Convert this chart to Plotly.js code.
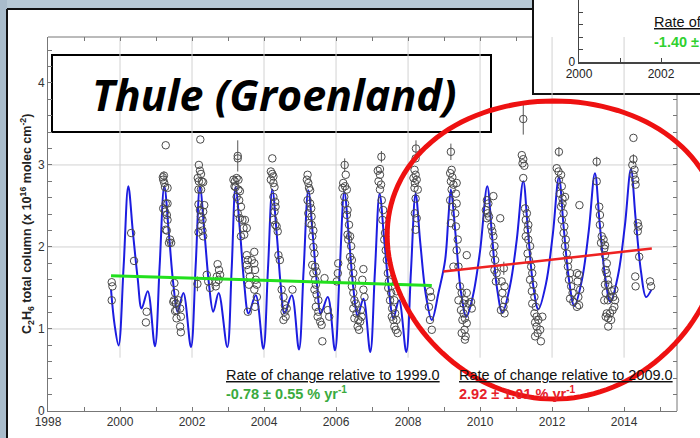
<!DOCTYPE html>
<html><head><meta charset="utf-8">
<script src="https://cdn.plot.ly/plotly-3.0.1.min.js"></script>
<style>html,body{margin:0;padding:0;background:#fff;}#chart{width:700px;height:438px;}</style>
</head><body><div id="chart"></div>
<script>
// ---------------- data ----------------
const xTickVals = [1998, 2000, 2002, 2004, 2006, 2008, 2010, 2012, 2014];
const yTickVals = [0, 1, 2, 3, 4];

// seasonal fit (blue curve): key points
const fitYear = [1999.75,1999.85,1999.96,2000.10,2000.23,2000.36,2000.49,2000.60,2000.77,2000.97,
 2001.10,2001.23,2001.36,2001.48,2001.60,2001.76,2001.97,
 2002.10,2002.22,2002.35,2002.47,2002.59,2002.74,2002.98,
 2003.10,2003.21,2003.34,2003.45,2003.57,2003.77,2003.98,
 2004.11,2004.23,2004.36,2004.46,2004.57,2004.77,2004.97,
 2005.10,2005.23,2005.36,2005.47,2005.58,2005.77,2005.97,
 2006.10,2006.23,2006.36,2006.48,2006.60,2006.76,2006.95,
 2007.08,2007.21,2007.34,2007.47,2007.59,2007.75,2007.95,
 2008.08,2008.21,2008.34,2008.50,2008.66,2008.85,2009.03,2009.12,2009.19,
 2009.32,2009.47,2009.62,2009.80,2010.00,2010.20,
 2010.33,2010.47,2010.62,2010.83,2011.02,2011.20,
 2011.33,2011.47,2011.62,2011.83,2012.02,2012.19,
 2012.32,2012.47,2012.62,2012.83,2013.02,2013.19,
 2013.32,2013.47,2013.62,2013.83,2014.02,2014.19,
 2014.32,2014.47,2014.61,2014.76];
const fitValue = [1.48,1.05,0.80,1.76,2.74,2.17,1.62,1.25,1.46,0.79,
 1.76,2.74,2.15,1.55,1.21,1.44,0.78,
 1.76,2.73,2.15,1.55,1.21,1.44,0.78,
 1.72,2.73,2.15,1.55,1.19,1.41,0.76,
 1.74,2.70,2.12,1.55,1.19,1.41,0.75,
 1.72,2.69,2.12,1.55,1.19,1.39,0.74,
 1.70,2.67,2.10,1.50,1.16,1.37,0.72,
 1.70,2.65,2.08,1.48,1.13,1.35,0.72,
 1.70,2.65,2.05,1.40,1.11,1.45,1.84,2.35,2.70,
 2.15,1.45,1.15,1.40,1.95,2.74,
 2.15,1.50,1.20,1.52,2.09,2.80,
 2.20,1.55,1.24,1.55,2.15,2.85,
 2.25,1.60,1.28,1.60,2.20,2.90,
 2.30,1.65,1.33,1.65,2.25,2.95,
 2.35,1.70,1.39,1.48];

// trend lines
const trend1Year = [1999.75, 2008.66];
const trend1Value = [1.65, 1.53];
const trend2Year = [2008.98, 2014.77];
const trend2Value = [1.70, 1.98];

// observations (open circles)
const obsYear = [
 1999.77,1999.79,1999.77,
 2000.31,2000.39,2000.74,2000.72,
 2001.27,2001.19,2001.20,2001.23,2001.25,2001.32,2001.27,2001.32,2001.20,2001.25,2001.30,2001.32,2001.27,2001.30,2001.39,2001.42,2001.36,2001.51,2001.53,2001.50,2001.48,2001.55,2001.62,2001.57,2001.53,2001.67,2001.69,2001.57,2001.67,2001.69,
 2002.23,2002.19,2002.22,2002.25,2002.16,2002.19,2002.27,2002.31,2002.18,2002.25,2002.18,2002.34,2002.22,2002.31,2002.25,2002.29,2002.25,2002.29,2002.31,2002.18,2002.41,2002.45,2002.50,2002.66,2002.71,2002.75,2002.69,2002.78,2002.67,2002.74,
 2003.27,2003.15,2003.19,2003.24,2003.29,2003.18,2003.21,2003.29,2003.33,2003.24,2003.31,2003.36,2003.27,2003.33,2003.40,2003.47,2003.43,2003.45,2003.36,2003.52,2003.52,2003.55,2003.52,2003.57,2003.61,2003.58,2003.66,2003.73,2003.73,2003.75,2003.77,2003.80,2003.73,2003.80,2003.55,2003.75,
 2004.23,2004.19,2004.23,2004.26,2004.19,2004.26,2004.29,2004.26,2004.31,2004.32,2004.29,2004.26,2004.31,2004.38,2004.35,2004.40,2004.44,2004.49,2004.54,2004.58,2004.57,2004.63,2004.54,2004.60,2004.79,
 2005.21,2005.19,2005.23,2005.25,2005.28,2005.21,2005.28,2005.31,2005.23,2005.32,2005.25,2005.32,2005.37,2005.34,2005.37,2005.40,2005.34,2005.42,2005.37,2005.46,2005.42,2005.44,2005.40,2005.46,2005.51,2005.44,2005.51,2005.49,2005.56,2005.60,2005.68,2005.77,2005.81,2005.62,
 2006.06,2006.05,2006.02,2006.27,2006.20,2006.25,2006.18,2006.30,2006.23,2006.25,2006.32,2006.30,2006.36,2006.32,2006.39,2006.34,2006.42,2006.39,2006.44,2006.42,2006.48,2006.45,2006.44,2006.48,2006.51,2006.55,2006.48,2006.57,2006.51,2006.62,2006.60,2006.67,2006.64,2006.71,2006.69,2006.76,2006.73,2006.76,2006.79,
 2007.22,2007.16,2007.22,2007.18,2007.25,2007.22,2007.27,2007.31,2007.29,2007.36,2007.34,2007.38,2007.41,2007.44,2007.47,2007.45,2007.53,2007.50,2007.56,2007.55,2007.59,2007.62,2007.66,2007.68,2007.64,2007.71,2007.62,2007.68,
 2008.21,2008.18,2008.21,2008.15,2008.24,2008.19,2008.18,2008.27,2008.21,2008.19,2008.24,2008.21,2008.61,2008.64,2008.58,2008.61,2008.66,
 2009.21,2009.17,2009.23,2009.19,2009.26,2009.21,2009.17,2009.23,2009.19,2009.26,2009.35,2009.33,2009.35,2009.31,2009.33,2009.38,2009.35,2009.40,2009.44,2009.49,2009.40,2009.54,2009.58,2009.47,2009.54,2009.51,2009.58,2009.63,2009.57,2009.49,2009.58,2009.68,2009.75,2009.63,2009.77,2009.60,2009.63,
 2010.19,2010.23,2010.16,2010.21,2010.19,2010.25,2010.37,2010.56,2010.31,2010.34,2010.37,2010.40,2010.37,2010.42,2010.40,2010.44,2010.46,2010.60,2010.68,2010.62,2010.69,2010.65,2010.58,2010.68,
 2011.16,2011.20,2011.18,2011.23,2011.20,2011.25,2011.30,2011.27,2011.34,2011.32,2011.27,2011.34,2011.39,2011.32,2011.36,2011.42,2011.45,2011.39,2011.48,2011.44,2011.51,2011.45,2011.55,2011.51,2011.57,2011.53,2011.62,2011.57,2011.67,2011.60,2011.53,2011.73,2011.69,
 2012.13,2012.18,2012.25,2012.19,2012.27,2012.22,2012.29,2012.25,2012.32,2012.27,2012.34,2012.32,2012.38,2012.36,2012.41,2012.45,2012.44,2012.50,2012.47,2012.53,2012.57,2012.50,2012.59,2012.36,2012.29,2012.76,2012.69,2012.75,2012.71,2012.78,2012.73,2012.69,2012.75,
 2013.24,2013.31,2013.33,2013.33,2013.38,2013.43,2013.36,2013.47,2013.45,2013.47,2013.52,2013.49,2013.52,2013.55,2013.47,2013.56,2013.49,2013.45,2013.55,2013.61,2013.66,2013.73,2013.70,2013.75,2013.73,2013.68,2013.61,2013.52,2013.56,2013.64,2013.56,2013.49,
 2014.26,2014.23,2014.29,2014.26,2014.31,2014.32,2014.38,2014.40,2014.38,2014.42,2014.31,2014.32,2014.72,2014.75];
const obsValue = [
 1.57,1.52,1.35,
 2.17,1.83,1.21,1.08,
 3.24,2.85,2.82,2.78,2.73,2.72,2.53,2.53,2.47,2.43,2.39,2.33,2.21,2.20,2.09,2.05,2.05,1.56,1.44,1.35,1.33,1.31,1.35,1.23,1.22,1.25,1.15,1.13,1.03,0.96,
 3.31,3.00,2.93,2.89,2.84,2.80,2.80,2.79,2.70,2.70,2.52,2.51,2.45,2.43,2.37,2.33,2.26,2.20,2.13,2.18,1.66,1.58,1.50,1.52,1.79,1.72,1.64,1.66,1.57,1.60,
 3.08,2.82,2.80,2.84,2.82,2.74,2.73,2.70,2.68,2.61,2.57,2.49,2.41,2.35,2.33,2.33,2.23,2.15,2.13,2.23,1.90,1.84,1.78,1.72,1.64,1.54,1.84,1.94,1.80,1.72,1.60,1.54,1.48,1.39,1.21,1.27,
 3.08,2.92,2.89,2.86,2.82,2.78,2.73,2.61,2.55,2.49,2.43,2.33,2.27,2.19,2.25,1.90,1.84,1.48,1.39,1.29,1.21,1.25,1.11,1.15,1.48,
 2.88,2.82,2.78,2.72,2.69,2.57,2.53,2.47,2.41,2.37,2.29,2.27,2.20,2.13,2.00,1.92,1.78,1.76,1.68,1.70,1.60,1.54,1.48,1.42,1.35,1.27,1.21,1.15,1.09,1.05,1.62,1.23,1.15,0.85,
 1.80,1.68,1.58,2.88,2.78,2.74,2.72,2.70,2.61,2.53,2.45,2.39,2.27,2.15,2.13,2.09,2.01,1.88,1.84,1.76,1.68,1.60,1.52,1.44,1.35,1.31,1.25,1.19,1.13,1.11,1.03,1.09,0.99,1.15,1.23,1.73,1.60,1.48,1.39,
 2.95,2.93,2.88,2.80,2.76,2.70,2.57,2.45,2.33,2.17,2.09,1.96,1.84,1.68,1.58,1.50,1.44,1.35,1.25,1.15,1.11,1.03,0.99,1.11,1.19,0.95,1.35,1.46,
 3.08,2.94,2.88,2.84,2.82,2.78,2.72,2.70,2.59,2.41,2.35,2.21,1.46,1.39,1.27,1.11,0.99,
 2.94,2.90,2.85,2.80,2.76,2.70,2.57,2.49,2.29,1.76,2.78,2.65,2.53,2.41,2.25,2.09,1.96,1.76,1.52,1.44,1.35,1.31,1.35,1.23,1.19,1.11,1.13,1.07,0.99,0.95,0.87,1.31,1.33,1.44,1.25,0.91,1.90,
 2.57,2.53,2.45,2.41,2.35,2.37,2.62,2.35,2.25,2.19,2.13,2.01,1.92,1.84,1.72,1.58,1.68,1.58,1.52,1.44,1.35,1.27,1.23,1.19,
 3.12,3.07,3.02,2.99,2.84,2.47,2.41,2.33,2.27,2.21,2.13,2.09,2.01,1.92,1.84,1.76,1.68,1.60,1.54,1.46,1.39,1.31,1.27,1.19,1.15,1.08,1.11,1.03,0.99,0.95,0.91,1.15,0.85,
 2.96,2.92,2.88,2.82,2.74,2.65,2.59,2.49,2.41,2.33,2.25,2.17,2.09,2.01,1.92,1.84,1.76,1.68,1.60,1.52,1.44,1.37,1.33,2.61,2.53,2.51,1.68,1.66,1.58,1.48,1.39,1.27,1.29,
 2.80,2.49,2.39,2.27,2.13,2.09,2.05,2.02,1.98,1.90,1.80,1.72,1.68,1.60,1.54,1.54,1.44,1.35,1.35,1.39,1.46,1.48,1.39,1.35,1.27,1.23,1.19,1.19,1.13,1.11,1.03,1.15,
 3.33,3.00,2.94,2.88,2.82,2.76,2.29,2.25,2.19,1.88,1.64,1.52,1.58,1.52];

// observations that carry a visible error bar
const errYear  = [2001.22,2002.15,2003.27,2006.24,2007.26,2008.22,2009.19,2010.66,2011.20,2012.19,2013.24,2014.26];
const errValue = [2.87,1.55,3.11,3.00,3.10,3.20,3.16,1.74,3.56,3.16,3.04,3.07];
const errSize  = [0.05,0.09,0.19,0.08,0.07,0.10,0.10,0.08,0.19,0.06,0.06,0.06];

// ---------------- geometry helpers (pixel -> paper) ----------------
const ML = 48, MB = 27, PW = 652, PH = 411;
const px = v => (v - ML) / PW;
const py = v => (PH - v) / PH;
const XMAX = 2015.47, YMAX = 4.56;
const xDom = [0, px(677)], yDom = [0, py(37)];

// hand-drawn style ellipse, a little wider in its upper half
function ellipsePath(cx, cy, rx, ry, k, n) {
  let d = '';
  for (let i = 0; i <= n; i++) {
    const t = 2 * Math.PI * i / n;
    const s = Math.sin(t);
    const X = px(cx + rx * Math.cos(t) * (1 - k * s)), Y = py(cy + ry * s);
    d += (i === 0 ? 'M' : 'L') + X.toFixed(5) + ',' + Y.toFixed(5);
  }
  return d + 'Z';
}

const AX = 'Liberation Sans, Arial, sans-serif';
const traces = [
  {x: fitYear, y: fitValue, mode: 'lines', line: {color: '#1c1ce0', width: 2, shape: 'spline', smoothing: 1}, hoverinfo: 'skip'},
  {x: obsYear, y: obsValue, mode: 'markers', marker: {symbol: 'circle-open', size: 7.5, color: '#4a4a4a', line: {width: 1}}},
  {x: errYear, y: errValue, mode: 'markers', marker: {symbol: 'circle-open', size: 7.5, color: '#4a4a4a', line: {width: 1}},
   error_y: {type: 'data', array: errSize, visible: true, color: '#555', thickness: 1, width: 0}},
  {x: trend1Year, y: trend1Value, mode: 'lines', line: {color: '#22e01e', width: 3}, xaxis: 'x3', yaxis: 'y3'},
  {x: trend2Year, y: trend2Value, mode: 'lines', line: {color: '#ee2222', width: 2.5}, xaxis: 'x3', yaxis: 'y3'},
  {x: [2000, 2001], y: [-5, -5], mode: 'lines', line: {color: '#fff', width: 0}, xaxis: 'x2', yaxis: 'y2'}
];

const topTicks = []; for (let yr = 1998; yr <= 2011; yr++) topTicks.push(yr);
const rightTicks = []; for (let k = 0; k <= 19; k++) rightTicks.push(+(k * 0.2).toFixed(1));

const shapes = [];
// slide background strips and border
shapes.push({type: 'rect', xref: 'paper', yref: 'paper', x0: px(0), x1: px(533), y0: py(9), y1: py(0), fillcolor: '#b7c9d5', line: {width: 0}, layer: 'below'});
shapes.push({type: 'rect', xref: 'paper', yref: 'paper', x0: px(0), x1: px(7), y0: py(438), y1: py(0), fillcolor: '#a9bccb', line: {width: 0}, layer: 'below'});
shapes.push({type: 'line', xref: 'paper', yref: 'paper', x0: px(7), x1: px(533), y0: py(9), y1: py(9), line: {color: '#111', width: 2}, layer: 'below'});
shapes.push({type: 'line', xref: 'paper', yref: 'paper', x0: px(7), x1: px(7), y0: py(9), y1: py(438), line: {color: '#111', width: 2}, layer: 'below'});
// grid
for (const gx of [2000, 2002, 2004, 2006, 2008, 2010, 2012, 2014]) {
  shapes.push({type: 'line', xref: 'x', yref: 'y', x0: gx, x1: gx, y0: 0.65, y1: YMAX, line: {color: '#d2d2d2', width: 1}, layer: 'below'});
}
for (const gy of [1, 2, 3]) {
  shapes.push({type: 'line', xref: 'x', yref: 'y', x0: 1998, x1: XMAX, y0: gy, y1: gy, line: {color: '#d2d2d2', width: 1}, layer: 'below'});
}
// frame top / right
shapes.push({type: 'line', xref: 'paper', yref: 'paper', x0: xDom[0], x1: xDom[1], y0: yDom[1], y1: yDom[1], line: {color: '#777', width: 1}, layer: 'below'});
shapes.push({type: 'line', xref: 'paper', yref: 'paper', x0: xDom[1], x1: xDom[1], y0: 0, y1: yDom[1], line: {color: '#777', width: 1}, layer: 'below'});
// title box
shapes.push({type: 'rect', xref: 'paper', yref: 'paper', x0: px(52), x1: px(491), y0: py(132), y1: py(55), fillcolor: '#fff', line: {color: '#000', width: 2}, layer: 'below'});
// inset box (top right)
shapes.push({type: 'rect', xref: 'paper', yref: 'paper', x0: px(533), x1: px(720), y0: py(94), y1: py(-10), fillcolor: '#fff', line: {color: '#111', width: 2}, layer: 'below'});
// red ellipse
shapes.push({type: 'path', xref: 'paper', yref: 'paper', path: ellipsePath(554, 250, 166, 149, 0.1, 140), line: {color: '#ee1111', width: 5}, layer: 'above'});

const annotations = [
  {xref: 'paper', yref: 'paper', x: px(274), y: py(94), xanchor: 'center', yanchor: 'middle', showarrow: false,
   text: 'Thule (Groenland)', font: {family: 'Open Sans, sans-serif', size: 43, weight: 'bold', style: 'italic', color: '#000'}},
  {xref: 'paper', yref: 'paper', x: px(27), y: py(224), xanchor: 'center', yanchor: 'middle', showarrow: false, textangle: -90,
   text: '<b>C<sub>2</sub>H<sub>6</sub> total column (x 10<sup>16</sup> molec cm<sup>-2</sup>)</b>', font: {family: AX, size: 12.5, color: '#222'}},
  {xref: 'paper', yref: 'paper', x: px(224), y: py(375), xanchor: 'left', yanchor: 'middle', showarrow: false,
   text: '<u>Rate of change relative to 1999.0</u>', font: {family: AX, size: 14.5, color: '#111'}},
  {xref: 'paper', yref: 'paper', x: px(224), y: py(393), xanchor: 'left', yanchor: 'middle', showarrow: false,
   text: '<b>-0.78 ± 0.55 % yr<sup>-1</sup></b>', font: {family: AX, size: 14.5, color: '#3aaa3e'}},
  {xref: 'paper', yref: 'paper', x: px(457), y: py(375), xanchor: 'left', yanchor: 'middle', showarrow: false,
   text: '<u>Rate of change relative to 2009.0</u>', font: {family: AX, size: 14.5, color: '#111'}},
  {xref: 'paper', yref: 'paper', x: px(457), y: py(393), xanchor: 'left', yanchor: 'middle', showarrow: false,
   text: '<b>2.92 ± 1.01 % yr<sup>-1</sup></b>', font: {family: AX, size: 14.5, color: '#e6202a'}},
  {xref: 'paper', yref: 'paper', x: px(652), y: py(22), xanchor: 'left', yanchor: 'middle', showarrow: false,
   text: '<u>Rate of change relative to 1999.0</u>', font: {family: AX, size: 14.5, color: '#111'}},
  {xref: 'paper', yref: 'paper', x: px(652), y: py(41), xanchor: 'left', yanchor: 'middle', showarrow: false,
   text: '<b>-1.40 ± 0.45 % yr<sup>-1</sup></b>', font: {family: AX, size: 14.5, color: '#2fd12f'}}
];

const layout = {
  width: 700, height: 438,
  margin: {l: ML, r: 0, t: 0, b: MB, pad: 0},
  paper_bgcolor: '#ffffff', plot_bgcolor: 'rgba(0,0,0,0)',
  showlegend: false,
  font: {family: AX, color: '#333'},
  xaxis: {domain: xDom, range: [1998, XMAX], anchor: 'y', tickvals: xTickVals, ticks: 'inside', ticklen: 4, tickcolor: '#777',
          minor: {dtick: 1, ticks: 'inside', ticklen: 4, tickcolor: '#777'},
          showline: true, linecolor: '#777', linewidth: 1, showgrid: false, zeroline: false,
          tickfont: {family: AX, size: 12, color: '#333'}},
  yaxis: {domain: yDom, range: [0, YMAX], anchor: 'x', tickvals: yTickVals, ticks: 'inside', ticklen: 4, tickcolor: '#777',
          minor: {dtick: 0.2, ticks: 'inside', ticklen: 4, tickcolor: '#777'},
          showline: true, linecolor: '#777', linewidth: 1, showgrid: false, zeroline: false,
          tickfont: {family: AX, size: 12, color: '#333'}},
  xaxis3: {overlaying: 'x', side: 'top', anchor: 'y3', range: [1998, XMAX], tickvals: topTicks, ticks: 'inside', ticklen: 4, tickcolor: '#777',
           showticklabels: false, showline: false, showgrid: false, zeroline: false},
  yaxis3: {overlaying: 'y', side: 'right', anchor: 'x3', range: [0, YMAX], tickvals: rightTicks, ticks: 'inside', ticklen: 4, tickcolor: '#777',
           showticklabels: false, showline: false, showgrid: false, zeroline: false},
  xaxis2: {domain: [px(579), 1], anchor: 'y2', range: [2000, 2002.95], tickvals: [2000, 2002], ticks: 'inside', ticklen: 4, tickcolor: '#444',
           minor: {dtick: 1, ticks: 'inside', ticklen: 4, tickcolor: '#444'},
           showline: true, linecolor: '#444', linewidth: 1.5, showgrid: false, zeroline: false,
           tickfont: {family: AX, size: 12, color: '#222'}},
  yaxis2: {domain: [py(62), 1], anchor: 'x2', range: [0, 1], tickvals: [0], ticks: 'inside', ticklen: 4, tickcolor: '#444',
           minor: {dtick: 0.2, ticks: 'inside', ticklen: 4, tickcolor: '#444'},
           showline: true, linecolor: '#444', linewidth: 1.5, showgrid: false, zeroline: false,
           tickfont: {family: AX, size: 12, color: '#222'}},
  shapes: shapes,
  annotations: annotations
};

Plotly.newPlot('chart', traces, layout, {displayModeBar: false, staticPlot: true});
</script>
</body></html>
